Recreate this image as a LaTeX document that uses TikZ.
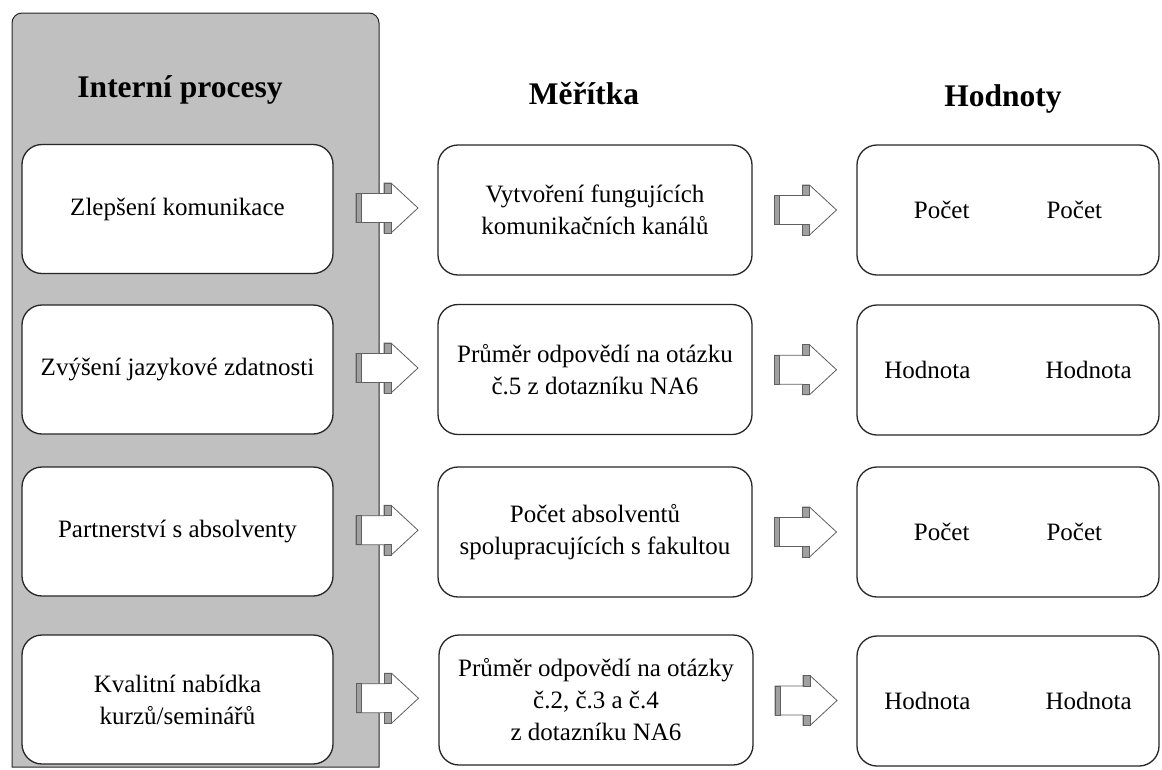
\documentclass[tikz,border=0pt]{standalone}
\usepackage{fontspec}
\setmainfont{Liberation Serif}
\usetikzlibrary{calc}
\definecolor{panelgray}{RGB}{192,192,192}
\definecolor{stripgray}{RGB}{160,160,160}
\definecolor{edgegray}{RGB}{95,95,95}

\begin{document}
\begin{tikzpicture}[x=1pt,y=1pt,
  box/.style={draw=black!85, line width=1.3pt, fill=white, rounded corners=20pt,
    align=center, inner sep=0pt, font=\fontsize{25}{32}\selectfont},
  leftbox/.style={box, minimum width=311pt, minimum height=129pt},
  midbox/.style={box, minimum width=314pt, minimum height=130pt},
  rightbox/.style={box, minimum width=302pt, minimum height=130pt},
  heading/.style={font=\bfseries\fontsize{31.5}{36}\selectfont},
  arrowedge/.style={draw=edgegray, line width=0.8pt, fill=white},
  stripface/.style={draw=edgegray, line width=0.6pt, fill=stripgray},
  blockarrow/.pic={
    \draw[arrowedge] (-31,14.5) -- (-3,14.5) -- (-3,25) -- (4,25) -- (31,0)
      -- (4,-25) -- (-3,-25) -- (-3,-14.5) -- (-31,-14.5) -- cycle;
    \filldraw[stripface] (-31,14.5) rectangle (-26,-14.5);
    \filldraw[stripface] (-3,14.5) rectangle (4,25);
    \filldraw[stripface] (-3,-14.5) rectangle (4,-25);
  }
]
\useasboundingbox (0,0) rectangle (1162,-769);

% grey panel behind the first column
\draw[fill=panelgray, draw=black!85, line width=1pt]
  (12,-767) -- (12,-23) arc[start angle=180, end angle=90, radius=10]
  -- (369,-13) arc[start angle=90, end angle=0, radius=10]
  -- (379,-767) -- cycle;

% column headings
\node[heading] (h1) at (180,-90) {Interní procesy};
\node[heading] (h2) at (584,-94) {Měřítka};
\node[heading] (h3) at (1003,-99) {Hodnoty};

% internal processes
\node[leftbox] (l1) at (177.5,-209)   {Zlepšení komunikace};
\node[leftbox] (l2) at (177.5,-369.5) {Zvýšení jazykové zdatnosti};
\node[leftbox] (l3) at (177.5,-531.5) {Partnerství s absolventy};
\node[leftbox] (l4) at (177.5,-699.5) {Kvalitní nabídka\\kurzů/seminářů};

% measures
\node[midbox] (m1) at (595,-210)   {Vytvoření fungujících\\komunikačních kanálů};
\node[midbox] (m2) at (595,-369.5) {Průměr odpovědí na otázku\\č.5 z dotazníku NA6};
\node[midbox] (m3) at (595,-532)   {Počet absolventů\\spolupracujících s fakultou};
\node[midbox] (m4) at (596,-700)   {Průměr odpovědí na otázky\\č.2, č.3 a č.4\\z dotazníku NA6};

% values
\node[rightbox] (r1) at (1008,-210) {Počet\hspace{77pt}Počet};
\node[rightbox] (r2) at (1008,-370) {Hodnota\hspace{75pt}Hodnota};
\node[rightbox] (r3) at (1008,-532) {Počet\hspace{77pt}Počet};
\node[rightbox] (r4) at (1008,-701) {Hodnota\hspace{75pt}Hodnota};

% block arrows between the columns
\foreach \i in {1,...,4} {
  \pic at ($(l\i.east)!0.5!(m\i.west)+(1.5,1.5)$) {blockarrow};
  \pic at ($(m\i.east)!0.5!(r\i.west)+(1,0)$) {blockarrow};
}
\end{tikzpicture}
\end{document}
